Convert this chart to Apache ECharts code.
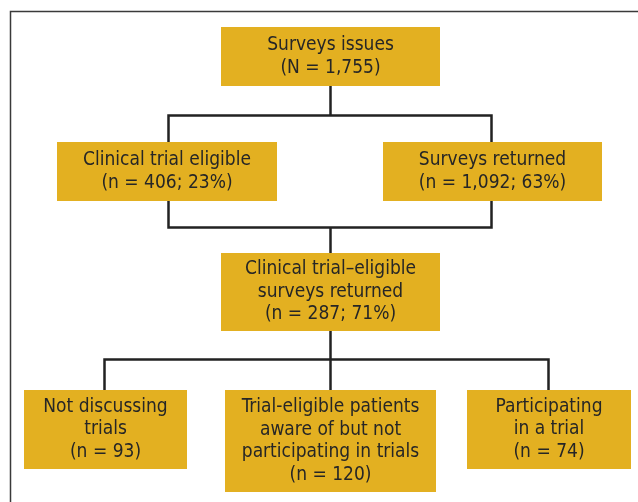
<!DOCTYPE html>
<html>
<head>
<meta charset="utf-8">
<title>Survey flow</title>
<script src="https://cdn.jsdelivr.net/npm/echarts@6/dist/echarts.min.js"></script>
<style>
  html, body { margin: 0; padding: 0; background: #fff; }
  #chart { width: 638px; height: 502px; }
</style>
</head>
<body>
<div id="chart"></div>
<script>
// node text
var nodeNames = [
  'Surveys issues',
  'Clinical trial eligible',
  'Surveys returned',
  'Clinical trial\u2013eligible\nsurveys returned',
  'Not discussing\ntrials',
  'Trial-eligible patients\naware of but not\nparticipating in trials',
  'Participating\nin a trial'
];
var nodeCounts = [1755, 406, 1092, 287, 93, 120, 74];
var nodePercents = [null, 23, 63, 71, null, null, null];
// box corners [x0, y0, x1, y1] in page pixels
var nodeBoxes = [
  [221, 27, 440, 86],
  [57, 142, 277, 201],
  [383, 142, 602, 201],
  [221, 253, 440, 331],
  [24, 390, 187, 469],
  [225, 390, 436, 492],
  [467, 390, 631, 469]
];
// connector polylines
var links = [
  [[330.5, 86], [330.5, 115.5]],
  [[168.5, 142], [168.5, 115.5], [491.5, 115.5], [491.5, 142]],
  [[168.5, 201], [168.5, 227.5], [491.5, 227.5], [491.5, 201]],
  [[330.5, 227.5], [330.5, 253]],
  [[330.5, 331], [330.5, 359.5]],
  [[104.5, 390], [104.5, 359.5], [548.5, 359.5], [548.5, 390]],
  [[330.5, 359.5], [330.5, 390]]
];

function nodeLabel(i) {
  var n = i === 0 ? 'N' : 'n';
  var s = '(' + n + ' = ' + nodeCounts[i].toLocaleString('en-US');
  if (nodePercents[i] != null) s += '; ' + nodePercents[i] + '%';
  return nodeNames[i] + '\n' + s + ')';
}

var chart = echarts.init(document.getElementById('chart'));
chart.setOption({
  animation: false,
  grid: { left: 0, right: 0, top: 0, bottom: 0 },
  xAxis: { type: 'value', min: 0, max: 638, show: false },
  yAxis: { type: 'value', min: 0, max: 502, inverse: true, show: false },
  graphic: [{
    type: 'polyline',
    shape: { points: [[10.5, 502], [10.5, 11.5], [638, 11.5]] },
    style: { stroke: '#3a3a3a', lineWidth: 1.5, fill: null }
  }],
  series: [
    {
      type: 'custom',
      data: links.map(function (l, i) { return [i]; }),
      renderItem: function (params, api) {
        var pts = links[api.value(0)].map(function (p) { return api.coord(p); });
        return {
          type: 'polyline',
          shape: { points: pts },
          style: { stroke: '#222', lineWidth: 2.5, fill: null }
        };
      },
      silent: true
    },
    {
      type: 'custom',
      data: nodeBoxes,
      renderItem: function (params, api) {
        var p0 = api.coord([api.value(0), api.value(1)]);
        var p1 = api.coord([api.value(2), api.value(3)]);
        return {
          type: 'rect',
          shape: { x: p0[0], y: p0[1], width: p1[0] - p0[0], height: p1[1] - p0[1] },
          style: { fill: '#E3B021' },
          textContent: {
            style: {
              text: nodeLabel(params.dataIndex),
              fill: '#262626',
              fontFamily: '"Liberation Sans Narrow", "DejaVu Sans Condensed", Roboto, sans-serif',
              fontSize: 19,
              lineHeight: 22.5,
              align: 'center'
            }
          },
          textConfig: { position: 'inside' }
        };
      },
      silent: true
    }
  ]
});
</script>
</body>
</html>
